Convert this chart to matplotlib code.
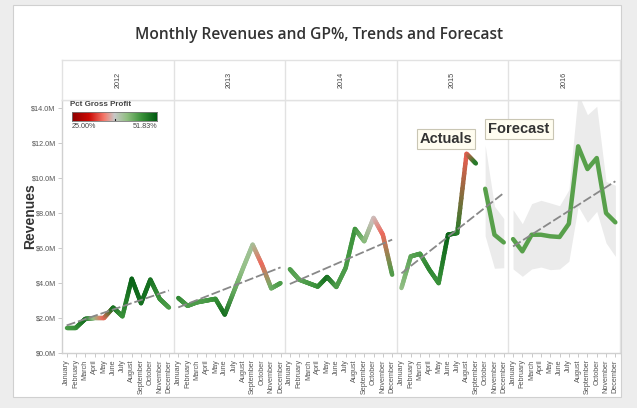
import numpy as np
import matplotlib
matplotlib.use("Agg")
import matplotlib.pyplot as plt
from matplotlib.collections import LineCollection
from matplotlib.colors import LinearSegmentedColormap, Normalize
from matplotlib.patches import Rectangle

# ---- data (revenues in $M, gross profit in %) ----
months = ['January', 'February', 'March', 'April', 'May', 'June', 'July',
          'August', 'September', 'October', 'November', 'December']
years = ['2012', '2013', '2014', '2015', '2016']

rev_2012 = [1.45, 1.45, 1.95, 2.0, 2.0, 2.6, 2.1, 4.25, 2.85, 4.2, 3.1, 2.6]
rev_2013 = [3.15, 2.7, 2.9, 3.0, 3.1, 2.2, 3.55, 4.9, 6.2, 5.05, 3.7, 4.0]
rev_2014 = [4.8, 4.2, 4.0, 3.8, 4.35, 3.78, 4.87, 7.1, 6.4, 7.73, 6.77, 4.48]
rev_2015 = [3.72, 5.53, 5.68, 4.77, 4.0, 6.77, 6.87, 11.4, 10.85]

gp_2012 = [46, 47, 50, 42, 34.5, 50, 47, 51, 50, 50, 47, 46]
gp_2013 = [48, 46, 46, 46, 47, 50, 45, 42, 41, 34.5, 44, 46]
gp_2014 = [46, 45, 46, 47, 50, 46, 46, 47, 43, 38, 34.5, 46]
gp_2015 = [42, 45, 46, 48, 47, 51, 49, 34, 49]

# forecast: 2015 Oct-Dec and all of 2016
fc_2015 = [9.4, 6.77, 6.33]
fc_2015_hi = [11.9, 8.4, 7.7]
fc_2015_lo = [6.7, 4.85, 4.88]
fc_2016 = [6.52, 5.82, 6.77, 6.77, 6.68, 6.64, 7.4, 11.83, 10.53, 11.16, 8.01, 7.48]
fc_2016_hi = [8.2, 7.4, 8.55, 8.74, 8.59, 8.43, 9.35, 14.84, 13.64, 14.12, 9.82, 9.6]
fc_2016_lo = [4.81, 4.39, 4.81, 4.92, 4.77, 4.81, 5.25, 8.4, 7.48, 8.11, 6.3, 5.53]

# trend lines: value at January and at December of each year
trend_start = [1.58, 2.61, 3.95, 4.56, 6.1]
trend_end = [3.58, 4.9, 6.49, 9.16, 9.83]

gp_min, gp_max = 25.0, 51.83
ytick_vals = [0, 2, 4, 6, 8, 10, 12, 14]

# ---- styling ----
W, H = 637, 408
gp_cmap = LinearSegmentedColormap.from_list(
    'gp', [(0.0, '#8e0000'), (0.2, '#cc0a05'), (0.38, '#f47a6c'),
           (0.5, '#c8c8c8'), (0.65, '#8fbf80'), (0.82, '#3a923a'),
           (1.0, '#005a10')])
norm = Normalize(gp_min, gp_max)
fc_color = '#58a04b'
grid_c = '#e2e2e2'
text_c = '#555555'
LW = 3.2


def fx(px):
    return px / W


def fy(py):
    return 1 - py / H


fig = plt.figure(figsize=(W / 100, H / 100), dpi=100)
fig.patch.set_facecolor('#ededed')
fig.patches.append(Rectangle((fx(13), fy(397)), fx(621) - fx(13), fy(5) - fy(397),
                             transform=fig.transFigure, facecolor='white',
                             edgecolor='#d0d0d0', lw=0.8, zorder=-5))

x0, x1 = 62, 620
ax = fig.add_axes([fx(x0), fy(353), fx(x1) - fx(x0), fy(100) - fy(353)])
axh = fig.add_axes([fx(x0), fy(100), fx(x1) - fx(x0), fy(60) - fy(100)])

ax.set_xlim(0, 60)
ax.set_ylim(0, 253 / 17.47)
axh.set_xlim(0, 60)
axh.set_ylim(0, 1)


def gradient_line(xs, ys, gs, n=16):
    # colour each point by GP%, blend the colours in RGB along each segment
    pc = [np.array(gp_cmap(norm(g))) for g in gs]
    segs, cols = [], []
    for i in range(len(xs) - 1):
        t = np.linspace(0, 1, n + 1)
        sx = xs[i] + (xs[i + 1] - xs[i]) * t
        sy = ys[i] + (ys[i + 1] - ys[i]) * t
        for k in range(n):
            m = (t[k] + t[k + 1]) / 2
            segs.append([(sx[k], sy[k]), (sx[k + 1], sy[k + 1])])
            cols.append(pc[i] * (1 - m) + pc[i + 1] * m)
    lc = LineCollection(segs, colors=cols, linewidths=LW, capstyle='round',
                        joinstyle='round', zorder=4)
    ax.add_collection(lc)


actuals = [(rev_2012, gp_2012), (rev_2013, gp_2013), (rev_2014, gp_2014), (rev_2015, gp_2015)]
for yi, (rev, gp) in enumerate(actuals):
    xs = yi * 12 + np.arange(len(rev)) + 0.5
    gradient_line(xs, rev, gp)

# forecast bands + lines
x15 = 3 * 12 + np.arange(9, 12) + 0.5
x16 = 4 * 12 + np.arange(12) + 0.5
ax.fill_between(x15, fc_2015_lo, fc_2015_hi, color='#ebebeb', lw=0, zorder=1)
ax.fill_between(x16, fc_2016_lo, fc_2016_hi, color='#ebebeb', lw=0, zorder=1)
ax.plot(x15, fc_2015, color=fc_color, lw=LW, solid_joinstyle='round',
        solid_capstyle='round', zorder=4)
ax.plot(x16, fc_2016, color=fc_color, lw=LW, solid_joinstyle='round',
        solid_capstyle='round', zorder=4)

# trend lines
for yi in range(len(years)):
    ax.plot([yi * 12 + 0.5, yi * 12 + 11.5], [trend_start[yi], trend_end[yi]],
            color='#888888', lw=1.3, dashes=(5, 1.6), zorder=5)

# panel separators
for b in range(12, 60, 12):
    ax.axvline(b, color=grid_c, lw=1.0, zorder=0)
    axh.axvline(b, color=grid_c, lw=1.0)

for a in (ax, axh):
    for s in a.spines.values():
        s.set_color(grid_c)
        s.set_linewidth(1.0)
ax.spines['left'].set_color('#d0d0d0')
ax.spines['bottom'].set_color('#d0d0d0')

# ticks
ax.set_xticks(np.arange(60) + 0.5)
ax.set_xticklabels(months * 5, rotation=90, fontsize=5.2, color=text_c,
                   family='Liberation Sans')
ax.set_yticks(ytick_vals)
ax.set_yticklabels(['$%.1fM' % v for v in ytick_vals], fontsize=5.2, color=text_c,
                   family='Liberation Sans')
ax.tick_params(axis='both', length=3, width=0.6, color='#c0c0c0', pad=1.5)
axh.set_xticks([])
axh.set_yticks([])

for yi, yr in enumerate(years):
    axh.text(yi * 12 + 6, 0.5, yr, rotation=90, ha='center', va='center',
             fontsize=5.2, color='#444444', family='Liberation Sans')

# titles
fig.text(fx(319), fy(35), 'Monthly Revenues and GP%, Trends and Forecast',
         ha='center', va='center', fontsize=11.2, fontweight='semibold',
         color='#333333', family='Open Sans')
fig.text(fx(30), fy(216), 'Revenues', rotation=90, ha='center', va='center',
         fontsize=10, fontweight='bold', color='#333333', family='Liberation Sans')

# colour legend
fig.text(fx(70), fy(104), 'Pct Gross Profit', ha='left', va='center', fontsize=5.8,
         fontweight='bold', color='#444444', family='Liberation Sans')
lax = fig.add_axes([fx(72), fy(121), fx(157) - fx(72), fy(112) - fy(121)])
lax.imshow(np.linspace(0, 1, 256)[None, :], aspect='auto', cmap=gp_cmap,
           extent=[0, 1, 0, 1])
lax.set_xticks([])
lax.set_yticks([])
for s in lax.spines.values():
    s.set_color('#777777')
    s.set_linewidth(0.6)
lax.plot([0.5, 0.5], [0, 0.25], color='#222222', lw=0.8)
fig.text(fx(72), fy(126.5), '%.2f%%' % gp_min, ha='left', va='center', fontsize=5.2,
         color='#444444', family='Liberation Sans')
fig.text(fx(157), fy(126.5), '%.2f%%' % gp_max, ha='right', va='center', fontsize=5.2,
         color='#444444', family='Liberation Sans')

# annotations
box = dict(boxstyle='square,pad=0.2', facecolor='#fffdf0', edgecolor='#c9c6b4', lw=0.8)
fig.text(fx(446), fy(139), 'Actuals', ha='center', va='center', fontsize=10.5,
         fontweight='bold', color='#333333', family='Liberation Sans', bbox=box)
fig.text(fx(519), fy(129), 'Forecast', ha='center', va='center', fontsize=10.5,
         fontweight='bold', color='#333333', family='Liberation Sans', bbox=box)

fig.savefig('out.png', dpi=100, facecolor=fig.get_facecolor())
